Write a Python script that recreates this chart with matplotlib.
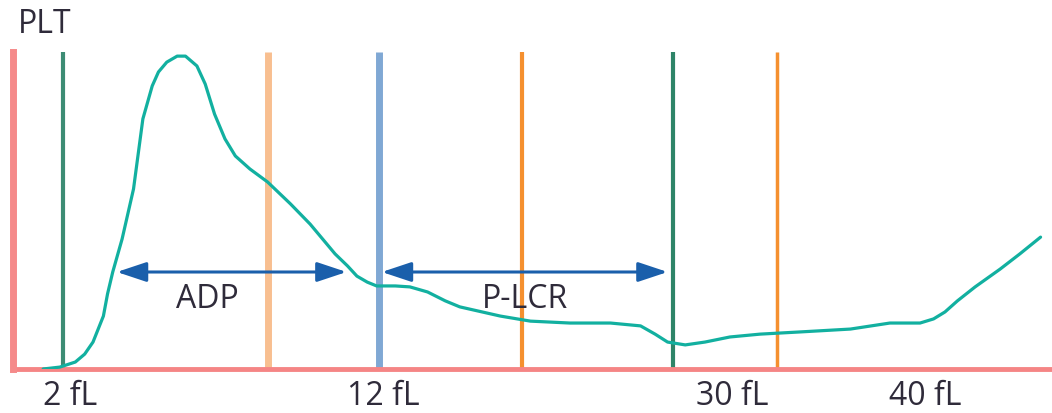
# plot.py
import matplotlib
matplotlib.use("Agg")
import matplotlib.pyplot as plt
from matplotlib.patches import FancyArrowPatch

plt.rcParams['font.family'] = ['Open Sans', 'DejaVu Sans']

# platelet volume histogram (relative scale 0-100 on both axes)
curve_x = [2.9, 4.5, 6.0, 6.9, 7.7, 8.2, 8.7, 9.1, 9.6, 10.5, 11.6, 12.5, 13.4, 14.0,
           14.8, 15.8, 16.6, 17.7, 18.5, 19.4, 20.4, 21.4, 22.8, 24.5, 26.7, 28.6,
           29.8, 31.0, 32.2, 33.1, 34.1, 35.0, 36.8, 38.2, 39.9, 41.6, 43.0, 46.9,
           49.8, 53.6, 57.5, 60.4, 61.8, 63.0, 64.7, 66.6, 69.0, 71.9, 75.8, 80.6,
           84.4, 87.3, 88.6, 89.7, 90.9, 92.6, 95.0, 96.9, 98.9]
curve_y = [0.0, 0.6, 2.2, 4.7, 8.5, 12.6, 16.7, 23.7, 30.6, 41.0, 56.8, 78.9, 89.3, 93.7,
           96.8, 98.7, 98.7, 95.6, 89.9, 80.4, 72.6, 67.2, 63.1, 59.0, 52.1, 45.7,
           41.0, 36.3, 32.5, 29.3, 27.4, 26.2, 26.2, 25.9, 24.3, 21.5, 19.6, 16.7,
           15.1, 14.5, 14.5, 13.6, 11.0, 8.5, 7.6, 8.5, 10.1, 11.0, 11.7, 12.6,
           14.5, 14.5, 15.8, 18.0, 21.5, 25.9, 31.5, 36.3, 41.6]

# threshold markers
marker_x = [4.8, 24.5, 35.2, 49.0, 63.5, 73.5]
marker_colors = ['#3d8c74', '#f8bf90', '#80a8d4', '#f5902f', '#2e8468', '#f5902f']
marker_widths = [3.0, 5.0, 5.0, 3.0, 3.0, 2.5]

tick_pos = [5.5, 35.6, 69.2, 87.8]
tick_labels = ['2 fL', '12 fL', '30 fL', '40 fL']

# ranges: (start, end, label, label x)
ranges = [(10.0, 32.1, 'ADP', 18.7), (35.5, 63.0, 'P-LCR', 49.3)]
range_y = 30.6
range_label_y = 19.5

text_color = '#2f2b3a'

fig = plt.figure(figsize=(10.52, 4.14), dpi=100)
ax = fig.add_axes([13 / 1052, 44 / 414, 1039 / 1052, 317 / 414])
ax.set_xlim(0, 100)
ax.set_ylim(0, 100)

ax.vlines(marker_x, 0, 100, colors=marker_colors, linewidth=marker_widths, zorder=1)

ax.plot(curve_x, curve_y, color='#12b0a0', linewidth=2.3, solid_joinstyle='round',
        solid_capstyle='round', zorder=3)

for x0, x1, lab, lx in ranges:
    arr = FancyArrowPatch((x0, range_y), (x1, range_y),
                          arrowstyle='<|-|>,head_length=0.9,head_width=0.3',
                          mutation_scale=20, color='#1a5fab', linewidth=2.2,
                          shrinkA=0, shrinkB=0, zorder=4)
    ax.add_patch(arr)
    ax.text(lx, range_label_y, lab, ha='center', va='baseline', fontsize=23,
            color=text_color, zorder=5)

for side in ['top', 'right']:
    ax.spines[side].set_visible(False)
ax.spines['left'].set_color('#f58a8a')
ax.spines['left'].set_linewidth(5.0)
ax.spines['bottom'].set_color('#f58585')
ax.spines['bottom'].set_linewidth(3.5)
ax.spines['bottom'].set_zorder(2)

ax.set_yticks([])
ax.set_xticks(tick_pos)
ax.set_xticklabels(tick_labels, fontsize=23, color=text_color)
ax.tick_params(axis='x', length=0, pad=7)

fig.text(18 / 1052, (414 - 33) / 414, 'PLT', ha='left', va='baseline',
         fontsize=23, color=text_color)

fig.savefig('out.png', dpi=100)
